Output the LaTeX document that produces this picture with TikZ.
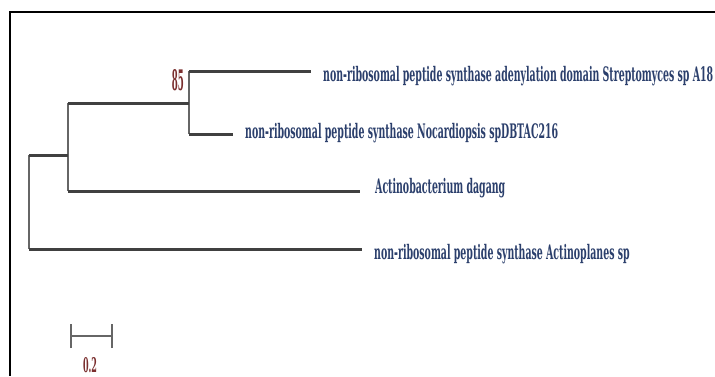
\documentclass[tikz,border=0pt]{standalone}
\usepackage{fontspec}
\setmainfont{DejaVu Serif}
\definecolor{navy}{HTML}{2B3F6C}
\definecolor{boot}{HTML}{7A2E2E}
\definecolor{branch}{HTML}{404040}
\definecolor{vbranch}{HTML}{666666}
\newcommand{\labfont}{\fontsize{20}{24}\selectfont\bfseries}
\newsavebox{\measurebox}
\sbox{\measurebox}{\labfont non-ribosomal peptide synthase adenylation domain Streptomyces sp A18}
\pgfmathsetmacro{\labscale}{390/\the\wd\measurebox}
\newcommand{\lab}[1]{\scalebox{\labscale}[1]{\labfont #1}}
\tikzset{
  lbl/.style={inner sep=0pt, anchor=base west, text=navy},
  hbr/.style={draw=branch, line width=3pt},
  vbr/.style={draw=vbranch, line width=1.8pt},
  frame/.style={draw=black, line width=2pt},
  scalebar/.style={draw=vbranch, line width=2pt},
}
\begin{document}
\begin{tikzpicture}[x=1pt,y=-1pt]
\useasboundingbox[fill=white] (0,0) rectangle (715,376);
\draw[frame] (715,11.5) -- (9.5,11.5) -- (9.5,376);

% tree coordinates
\coordinate (root) at (29,155);
\coordinate (n1) at (68,155);
\coordinate (n2) at (189,103);
\coordinate (e1) at (311,71);
\coordinate (e2) at (233,134);
\coordinate (e3) at (360,191);
\coordinate (e4) at (362,249);

% labels
\node[lbl] (l1) at (323,81) {\lab{non-ribosomal peptide synthase adenylation domain Streptomyces sp A18}};
\node[lbl] (l2) at (245,138) {\lab{non-ribosomal peptide synthase Nocardiopsis spDBTAC216}};
\node[lbl] (l3) at (375,193) {\lab{Actinobacterium dagang}};
\node[lbl] (l4) at (374,259) {\lab{non-ribosomal peptide synthase Actinoplanes sp}};

% vertical branches
\draw[vbr] (root) -- (root |- e4);
\draw[vbr] (n1 |- n2) -- (n1 |- e3);
\draw[vbr] (n2 |- e1) -- (n2 |- e2);
% horizontal branches
\draw[hbr] (root) -- (n1);
\draw[hbr] (root |- e4) -- (e4);
\draw[hbr] (n1 |- n2) -- (n2);
\draw[hbr] (n1 |- e3) -- (e3);
\draw[hbr] (n2 |- e1) -- (e1);
\draw[hbr] (n2 |- e2) -- (e2);

% bootstrap
\node[inner sep=0pt, anchor=base east, text=boot] (bs) at (184,90.5) {\resizebox{12pt}{21pt}{\bfseries 85}};

% scale bar
\coordinate (s1) at (71,336);
\coordinate (s2) at (111.5,336);
\draw[scalebar] (s1) -- (s2);
\draw[scalebar] ([yshift=-12pt]s1) -- ([yshift=12pt]s1);
\draw[scalebar] ([yshift=-12pt]s2) -- ([yshift=12pt]s2);
\node[inner sep=0pt, anchor=base, text=boot] (sl) at (90,372) {\resizebox{14pt}{15pt}{\bfseries 0.2}};
\end{tikzpicture}
\end{document}
